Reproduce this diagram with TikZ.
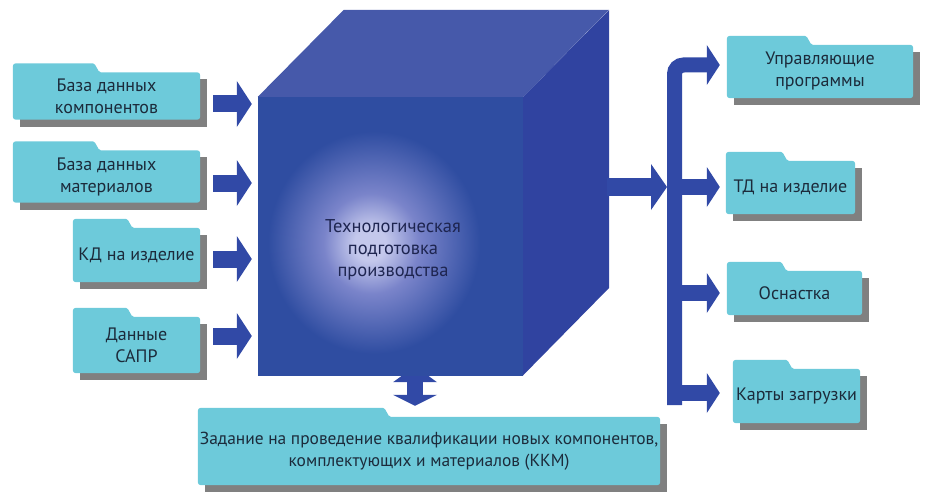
\documentclass[tikz,border=0pt]{standalone}
\usepackage{fontspec}
\setmainfont{PT Sans}
\usetikzlibrary{arrows.meta, backgrounds, calc}
\definecolor{CubeFront}{HTML}{2F4DA1}
\definecolor{CubeTop}{HTML}{4659AA}
\definecolor{CubeRight}{HTML}{3043A0}
\definecolor{GlowC}{HTML}{C4C8EC}
\definecolor{GlowMid}{HTML}{7A84CA}
\definecolor{ArrowC}{HTML}{3149A6}
\definecolor{FolderC}{HTML}{6DCADA}
\definecolor{ShadowC}{HTML}{808080}
\definecolor{TextC}{HTML}{1C2B3B}
\definecolor{CubeText}{HTML}{1E2550}
\pgfdeclareradialshading{cubeglow}{\pgfpoint{-4bp}{-1.5bp}}{color(0bp)=(GlowC); color(3bp)=(GlowC); color(9bp)=(GlowMid); color(20bp)=(CubeFront); color(90bp)=(CubeFront)}
\tikzset{
  folder/.style={text=TextC, align=center, inner sep=0pt,
    font=\fontsize{18}{22}\selectfont},
  cubeface/.style={shading=cubeglow, minimum width=265pt, minimum height=278pt, inner sep=0pt},
  cubetext/.style={text=CubeText, align=center, font=\fontsize{18.5}{22}\selectfont},
  inarrow/.style={draw=ArrowC, line width=17pt, -{Triangle[length=15pt, width=46pt, line width=0pt]}},
  outarrow/.style={draw=ArrowC, line width=18pt, -{Triangle[length=16pt, width=46pt, line width=0pt]}},
  bus/.style={draw=ArrowC, line width=15pt, rounded corners=9pt, -{Triangle[length=13pt, width=40pt, line width=0pt]}},
  branch/.style={draw=ArrowC, line width=16pt, -{Triangle[length=13pt, width=40pt, line width=0pt]}},
  dblarrow/.style={draw=ArrowC, line width=16pt,
    {Triangle[length=16pt, width=44pt, line width=0pt]}-{Triangle[length=11pt, width=44pt, line width=0pt]}},
}

\begin{document}
\begin{tikzpicture}[x=1pt, y=1pt]
  \useasboundingbox (0,0) rectangle (925,499);
  % inputs
  \node[folder, minimum width=187pt, minimum height=47pt] (b1) at (106.5,403) {База данных\\компонентов};
  \node[folder, minimum width=187pt, minimum height=52pt] (b2) at (106.5,322.5) {База данных\\материалов};
  \node[folder, minimum width=127pt, minimum height=54pt] (b3) at (136.5,244) {КД на изделие};
  \node[folder, minimum width=127pt, minimum height=56pt] (b4) at (136.5,154) {Данные\\САПР};
  % outputs
  \node[folder, minimum width=186pt, minimum height=53pt] (r1) at (820,427.5) {Управляющие\\программы};
  \node[folder, minimum width=129pt, minimum height=53pt] (r2) at (790.5,311.5) {ТД на изделие};
  \node[folder, minimum width=135pt, minimum height=44pt] (r3) at (794.5,206) {Оснастка};
  \node[folder, minimum width=127pt, minimum height=54pt] (r4) at (796.5,103) {Карты загрузки};
  \node[folder, minimum width=462pt, minimum height=68pt, font=\fontsize{17.4}{22}\selectfont] (task) at (429,48)
    {Задание на проведение квалификации новых компонентов,\\комплектующих и материалов (ККМ)};
  % the cube
  \node[cubeface] (cube) at (390.5,263) {};
  \fill[CubeTop] (cube.north west) -- ++(86,87) -- ++(265,0) -- (cube.north east) -- cycle;
  \fill[CubeRight] (cube.north east) -- ++(86,87) -- ++(0,-278) -- (cube.south east) -- cycle;
  \node[cubetext] (tpp) at (393,249) {Технологическая\\подготовка\\производства};

  \begin{scope}[on background layer]
    \foreach \n/\t in {b1/77, b2/77, b3/50, b4/50, r1/75, r2/52, r3/50, r4/50, task/182} {
      \fill[ShadowC] ([shift={(7,-7)}]\n.south west) rectangle ([shift={(7,-7)}]\n.north east);
      \fill[FolderC, rounded corners=3pt] (\n.south west) -- ([yshift=9pt]\n.north west)
        -- ([shift={(\t,9)}]\n.north west) to[out=0, in=180] ([shift={({\t+14},0)}]\n.north west)
        -- (\n.north east) -- (\n.south east) -- cycle;
    }
    \draw[dblarrow] ([xshift=24.5pt, yshift=9pt]cube.south) -- ([xshift=-14pt, yshift=11pt]task.north);
  \end{scope}

  % arrows in
  \foreach \n/\dy in {b1/-8, b2/-6.5, b3/-4, b4/9}
    \draw[inarrow, shorten >=6pt] ([shift={(13,\dy)}]\n.east) -- ([yshift=\dy pt]\n.east -| cube.west);

  % arrows out
  \coordinate (cubeout) at ($(cube.east)+(84,49)$);
  \coordinate (busl) at (667,0);
  \coordinate (bustop) at (674.5,434);
  \coordinate (busbot) at (674.5,94);
  \draw[outarrow] (cubeout) -- (cubeout -| busl);
  \draw[bus, shorten >=7pt] (busbot) -- (bustop) -- ([yshift=6.5pt]r1.west);
  \foreach \n/\dy/\s in {r2/0.5/6, r3/0/7, r4/3/13}
    \draw[branch, shorten >=\s pt] ([yshift=\dy pt]\n.west -| busl) -- ([yshift=\dy pt]\n.west);
\end{tikzpicture}
\end{document}
